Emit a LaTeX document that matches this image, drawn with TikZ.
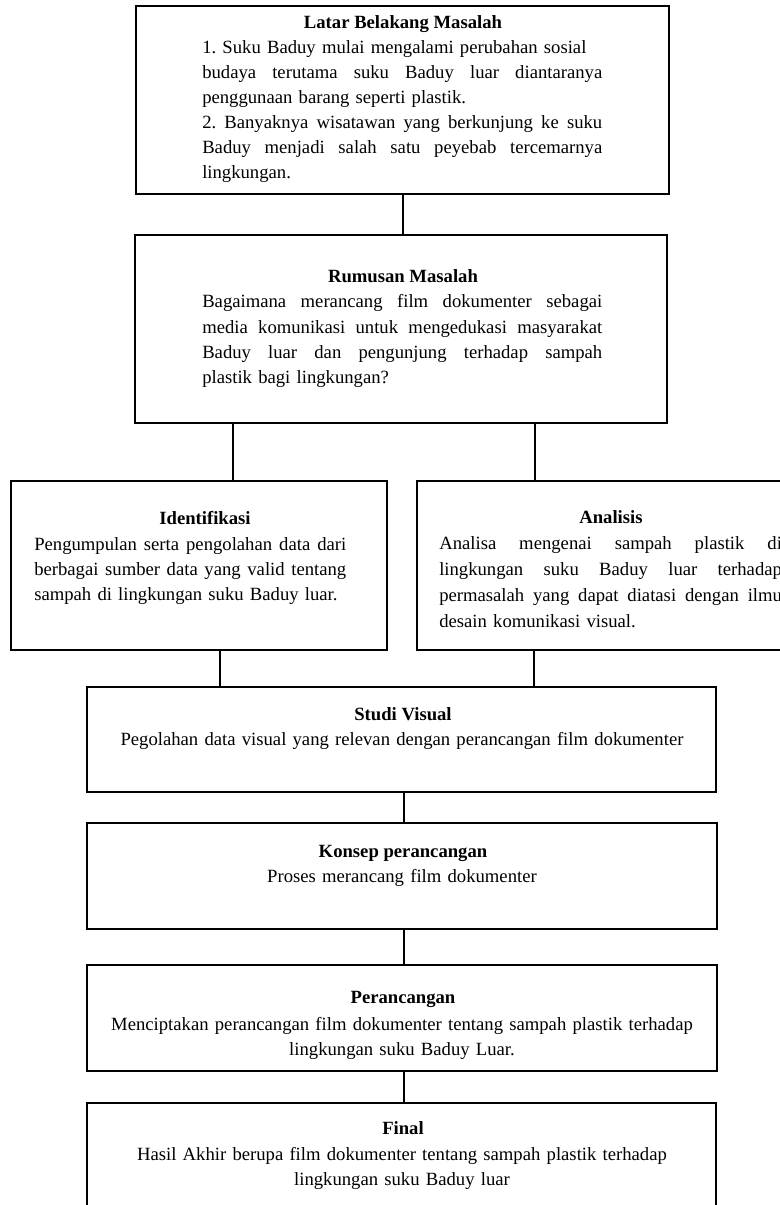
\documentclass[tikz,border=0pt]{standalone}
\usepackage{fontspec}
\setmainfont{Liberation Serif}
\frenchspacing
\newcommand\jline[2]{\makebox[#1][s]{\spaceskip=0pt\xspaceskip=0pt #2}}
\tikzset{
  box/.style={draw=black, line width=1.5pt, rectangle, inner sep=0pt, outer sep=0pt},
  conn/.style={draw=black, line width=1.1pt},
  ttl/.style={font=\fontsize{14pt}{18.75pt}\selectfont\bfseries, inner sep=0pt, anchor=base},
  body/.style={font=\fontsize{14pt}{18.75pt}\selectfont\frenchspacing, inner sep=0pt, align=left, anchor=base west},
  cbody/.style={font=\fontsize{14pt}{18.75pt}\selectfont\frenchspacing, inner sep=0pt, align=center, anchor=base, text width=465pt},
}
\begin{document}
\begin{tikzpicture}[x=0.75pt,y=-0.75pt]
\useasboundingbox (0,0) rectangle (780,1205);
\fill[white] (0,0) rectangle (780,1205);
\clip (0,0) rectangle (780,1205);

% boxes
\node[box, minimum width=399.75pt, minimum height=141pt] (lat) at (402.5,100) {};
\node[box, minimum width=399pt, minimum height=141pt] (rum) at (401,329) {};
\node[box, minimum width=282pt, minimum height=126.75pt] (idf) at (199,565.5) {};
\node[box, minimum width=283.5pt, minimum height=126.75pt] (ana) at (606,565.5) {};
\node[box, minimum width=471.75pt, minimum height=78.75pt] (stu) at (401.5,739.5) {};
\node[box, minimum width=472.5pt, minimum height=79.5pt] (kon) at (402,876) {};
\node[box, minimum width=472.5pt, minimum height=79.5pt] (per) at (402,1018) {};
\node[box, minimum width=471.75pt, minimum height=102.75pt] (fin) at (401.5,1171.5) {};

% connector x positions
\coordinate (c0) at (403,0);
\coordinate (c1) at (233,0);
\coordinate (c2) at (535,0);
\coordinate (c3) at (220,0);
\coordinate (c4) at (534,0);
\coordinate (c5) at (404,0);

\draw[conn] (lat.south -| c0) -- (rum.north -| c0);
\draw[conn] (rum.south -| c1) -- (idf.north -| c1);
\draw[conn] (rum.south -| c2) -- (ana.north -| c2);
\draw[conn] (idf.south -| c3) -- (stu.north -| c3);
\draw[conn] (ana.south -| c4) -- (stu.north -| c4);
\draw[conn] (stu.south -| c5) -- (kon.north -| c5);
\draw[conn] (kon.south -| c5) -- (per.north -| c5);
\draw[conn] (per.south -| c5) -- (fin.north -| c5);

% titles
\node[ttl] (latT) at (403,29) {Latar Belakang Masalah};
\node[ttl] (rumT) at (403,283) {Rumusan Masalah};
\node[ttl] (idfT) at (205,524) {Identifikasi};
\node[ttl] (anaT) at (611,523) {Analisis};
\node[ttl] (stuT) at (403,720) {Studi Visual};
\node[ttl] (konT) at (403,857) {Konsep perancangan};
\node[ttl] (perT) at (403,1003) {Perancangan};
\node[ttl] (finT) at (403,1134) {Final};

% bodies
\node[body, text width=300pt] (latB) at (202,54) {%
1. Suku Baduy mulai mengalami perubahan sosial\\
\jline{300pt}{budaya terutama suku Baduy luar diantaranya}\\
penggunaan barang seperti plastik.\\
\jline{300pt}{2. Banyaknya wisatawan yang berkunjung ke suku}\\
\jline{300pt}{Baduy menjadi salah satu peyebab tercemarnya}\\
lingkungan.};

\node[body, text width=300pt] (rumB) at (202,308) {%
\jline{300pt}{Bagaimana merancang film dokumenter sebagai}\\
\jline{300pt}{media komunikasi untuk mengedukasi masyarakat}\\
\jline{300pt}{Baduy luar dan pengunjung terhadap sampah}\\
plastik bagi lingkungan?};

\node[body, text width=234pt] (idfB) at (34,550) {%
\jline{234pt}{Pengumpulan serta pengolahan data dari}\\
\jline{234pt}{berbagai sumber data yang valid tentang}\\
sampah di lingkungan suku Baduy luar.};

\node[body, text width=257pt, font=\fontsize{14pt}{19.5pt}\selectfont] (anaB) at (439,549) {%
\jline{257pt}{Analisa mengenai sampah plastik di}\\
\jline{257pt}{lingkungan suku Baduy luar terhadap}\\
\jline{257pt}{permasalah yang dapat diatasi dengan ilmu}\\
desain komunikasi visual.};

\node[cbody] (stuB) at (402,745) {Pegolahan data visual yang relevan dengan perancangan film dokumenter};
\node[cbody] (konB) at (402,882) {Proses merancang film dokumenter};
\node[cbody] (perB) at (402,1030) {Menciptakan perancangan film dokumenter tentang sampah plastik terhadap\\ lingkungan suku Baduy Luar.};
\node[cbody] (finB) at (402,1160) {Hasil Akhir berupa film dokumenter tentang sampah plastik terhadap\\ lingkungan suku Baduy luar};
\end{tikzpicture}
\end{document}
